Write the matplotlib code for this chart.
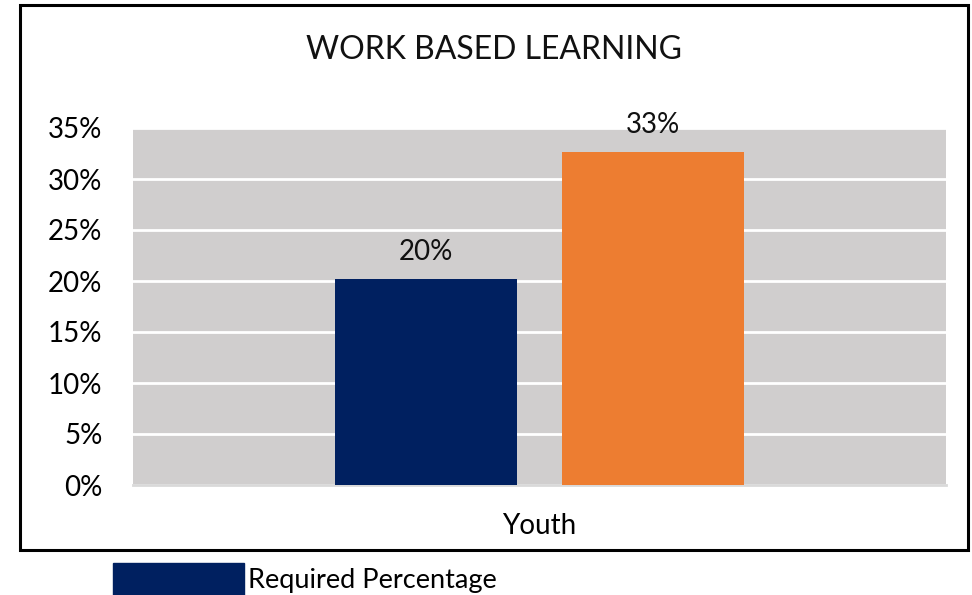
import matplotlib.pyplot as plt
from matplotlib.patches import Rectangle, Patch

# data
category = ["Youth"]
series = ["Required Percentage", "Actual Percentage"]
values = [0.202, 0.326]
colors = ["#002060", "#ED7D31"]

plt.rcParams['font.family'] = ['Lato', 'DejaVu Sans']

W, H = 972, 595
fig = plt.figure(figsize=(W / 100, H / 100), dpi=100)

# outer border of the chart
fig.add_artist(Rectangle((20 / W, (H - 550) / H), 948 / W, 545 / H,
                         transform=fig.transFigure, fill=False,
                         edgecolor="black", linewidth=2.2))

ax = fig.add_axes([133 / W, (H - 485) / H, 813 / W, 357 / H])
ax.set_facecolor("#D0CECE")

offsets = [-0.14, 0.14]
width = 0.224
for v, c, off, name in zip(values, colors, offsets, series):
    ax.bar(off, v, width=width, color=c, zorder=3, label=name)
    ax.text(off, v + 0.014, f"{v:.0%}", ha="center", va="bottom",
            fontsize=20, color="#111111")

ax.set_xlim(-0.5, 0.5)
ax.set_ylim(0, 0.35)
ax.set_yticks([i * 0.05 for i in range(8)])
ax.set_yticklabels([f"{i * 5}%" for i in range(8)], fontsize=20)
ax.set_xticks([0])
ax.set_xticklabels(category, fontsize=20)
ax.tick_params(axis="y", length=0, pad=22)
ax.tick_params(axis="x", length=0, pad=20)
ax.yaxis.grid(True, color="white", linewidth=2, zorder=1)
ax.set_axisbelow(True)
for s in ["top", "right", "left"]:
    ax.spines[s].set_visible(False)
ax.spines["bottom"].set_color("#D9D9D9")
ax.spines["bottom"].set_linewidth(2)

fig.text(494 / W, (H - 50) / H, "WORK BASED LEARNING", ha="center",
         va="center", fontsize=23, color="#111111")

# legend (only first entry visible in the original)
fig.legend(handles=[Patch(color=colors[0], label=series[0])],
           loc="upper left", bbox_to_anchor=(113 / W, (H - 563) / H),
           frameon=False, fontsize=19.5, borderpad=0, borderaxespad=0,
           handlelength=4.85, handleheight=1.5, handletextpad=0.15)

fig.savefig("out.png", dpi=100)
